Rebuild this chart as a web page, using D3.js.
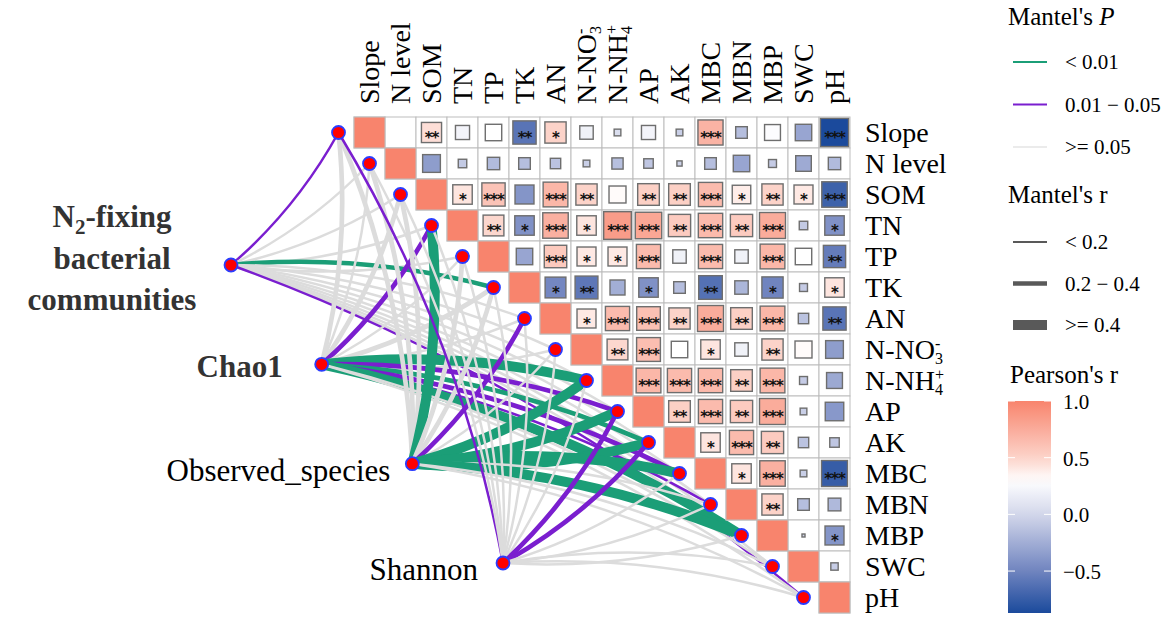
<!DOCTYPE html>
<html>
<head>
<meta charset="utf-8">
<script src="https://cdn.jsdelivr.net/npm/d3@7"></script>
<style>
  body { margin: 0; background: #fff; }
  svg { display: block; }
  text { font-family: "Liberation Serif", "Times New Roman", serif; }
</style>
</head>
<body>
<svg id="chart" width="1170" height="620"></svg>
<script>
// soil / environment variables (rows == columns)
let vars = ["Slope", "N level", "SOM", "TN", "TP", "TK", "AN", "N-NO3", "N-NH4",
            "AP", "AK", "MBC", "MBN", "MBP", "SWC", "pH"];

// Pearson's r, upper triangle, row i holds columns i+1 .. 15
let corR = [
  [0, 0.45, 0.22, 0.30, -0.60, 0.50, 0.20, 0.05, 0.22, -0.05, 0.70, -0.15, 0.28, -0.30, -0.88],
  [-0.35, -0.08, -0.17, -0.15, -0.12, -0.05, -0.14, -0.10, -0.03, -0.15, -0.30, -0.07, -0.27, -0.17],
  [0.42, 0.60, -0.40, 0.68, 0.50, 0.32, 0.52, 0.52, 0.65, 0.38, 0.50, 0.40, -0.72],
  [0.48, -0.42, 0.72, 0.42, 0.85, 0.78, 0.55, 0.66, 0.55, 0.75, -0.08, -0.42],
  [-0.30, 0.56, 0.40, 0.40, 0.65, 0.20, 0.65, 0.20, 0.68, 0.30, -0.55],
  [-0.48, -0.58, -0.25, -0.42, -0.15, -0.62, -0.20, -0.50, -0.07, 0.42],
  [0.40, 0.65, 0.62, 0.50, 0.75, 0.52, 0.68, -0.12, -0.60],
  [0.48, 0.63, 0.30, 0.42, 0.20, 0.50, 0.32, -0.35],
  [0.68, 0.65, 0.66, 0.52, 0.68, -0.07, -0.28],
  [0.52, 0.65, 0.55, 0.75, -0.05, -0.38],
  [0.42, 0.65, 0.55, -0.12, -0.10],
  [0.42, 0.72, -0.05, -0.75],
  [0.50, -0.15, -0.18],
  [0.01, -0.40],
  [-0.06]
];

let corStars = [
  ["", "**", "", "", "**", "*", "", "", "", "", "***", "", "", "", "***"],
  ["", "", "", "", "", "", "", "", "", "", "", "", "", ""],
  ["*", "***", "", "***", "**", "", "**", "**", "***", "*", "**", "*", "***"],
  ["**", "*", "***", "*", "***", "***", "**", "***", "**", "***", "", "*"],
  ["", "***", "*", "*", "***", "", "***", "", "***", "", "**"],
  ["*", "**", "", "*", "", "**", "", "*", "", "*"],
  ["*", "***", "***", "**", "***", "**", "***", "", "**"],
  ["**", "***", "", "*", "", "**", "", ""],
  ["***", "***", "***", "**", "***", "", ""],
  ["**", "***", "**", "***", "", ""],
  ["*", "***", "**", "", ""],
  ["*", "***", "", "***"],
  ["**", "", ""],
  ["", "*"],
  [""]
];

// Mantel test results, one entry per variable
// P class: 0 = < 0.01, 1 = 0.01 - 0.05, 2 = >= 0.05 ; r class: 0 = < 0.2, 1 = 0.2 - 0.4, 2 = >= 0.4
let specs = ["N2-fixing bacterial communities", "Chao1", "Observed_species", "Shannon"];
let pN2      = [1, 2, 2, 2, 2, 0, 2, 2, 2, 2, 2, 2, 2, 2, 2, 1];
let rN2      = [0, 0, 0, 0, 0, 1, 0, 0, 0, 0, 0, 0, 0, 0, 0, 0];
let pChao1   = [2, 2, 2, 1, 2, 2, 2, 2, 0, 1, 0, 1, 1, 0, 2, 2];
let rChao1   = [1, 0, 1, 1, 0, 1, 0, 0, 2, 1, 1, 1, 0, 2, 0, 0];
let pObs     = [2, 2, 2, 0, 2, 2, 1, 2, 0, 0, 0, 0, 2, 0, 2, 2];
let rObs     = [1, 1, 1, 2, 1, 1, 1, 0, 2, 2, 2, 2, 0, 2, 0, 0];
let pShannon = [1, 2, 2, 2, 2, 2, 2, 2, 2, 1, 1, 2, 2, 2, 2, 2];
let rShannon = [0, 0, 0, 0, 0, 0, 0, 0, 0, 1, 1, 0, 0, 0, 0, 0];

let pLabels = ["< 0.01", "0.01 \u2212 0.05", ">= 0.05"];
let rLabels = ["< 0.2", "0.2 \u2212 0.4", ">= 0.4"];
let colorTicks = [1.0, 0.5, 0.0, -0.5];

// Colors
let colorP = ["#1B9E77", "#7A1ECF", "#DCDCDC"];
let widthR = [2.5, 4.7, 10];
let fill = d3.scaleLinear()
    .domain([-0.87, -0.5, 0, 0.3, 0.5, 1])
    .range(["#1B4A9C", "#7084BF", "#D3D7EB", "#FFFFFF", "#FCD3C9", "#F8846D"])
    .clamp(true);

let svg = d3.select("#chart");

let xScale = d3.scaleBand().domain(vars).range([354, 850]);
let yScale = d3.scaleBand().domain(vars).range([117, 613]);
let cell = xScale.bandwidth();

// spec nodes sit on a line left of the matrix
let specX = d3.scaleLinear().domain([0, specs.length - 1]).range([231, 503]);
let specY = d3.scaleLinear().domain([0, specs.length - 1]).range([265, 563]);

function envNode(j) {
    return {x: xScale(vars[j]) - cell / 2, y: yScale(vars[j]) + cell / 2};
}

// links
let links = [];
[[pN2, rN2], [pChao1, rChao1], [pObs, rObs], [pShannon, rShannon]].forEach((pr, s) => {
    vars.forEach((v, j) => {
        links.push({s: s, j: j, p: pr[0][j], r: pr[1][j]});
    });
});

function curve(d) {
    let a = {x: specX(d.s), y: specY(d.s)};
    let b = envNode(d.j);
    let dx = b.x - a.x, dy = b.y - a.y;
    let sign = b.y > a.y ? 1 : -1;
    let k = 0.09;
    let cx = (a.x + b.x) / 2 + sign * k * dy;
    let cy = (a.y + b.y) / 2 - sign * k * dx;
    return "M" + a.x + "," + a.y + "Q" + cx + "," + cy + " " + b.x + "," + b.y;
}

svg.append("g").selectAll("path")
    .data(links)
    .enter().append("path")
    .attr("d", curve)
    .attr("fill", "none")
    .attr("stroke", d => colorP[d.p])
    .attr("stroke-width", d => widthR[d.r]);

// matrix cells
let cells = [];
vars.forEach((v, i) => {
    vars.forEach((w, j) => {
        if (j < i) return;
        let r = j == i ? 1 : corR[i][j - i - 1];
        let star = j == i ? "" : corStars[i][j - i - 1];
        cells.push({row: v, col: w, r: r, star: star, diag: i == j});
    });
});

let grid = svg.append("g");
grid.selectAll("rect.bg")
    .data(cells)
    .enter().append("rect")
    .attr("class", "bg")
    .attr("x", d => xScale(d.col))
    .attr("y", d => yScale(d.row))
    .attr("width", cell)
    .attr("height", cell)
    .attr("fill", "#fff")
    .attr("stroke", "#BDBDBD")
    .attr("stroke-width", 1);

grid.selectAll("rect.sq")
    .data(cells.filter(d => d.r != 0))
    .enter().append("rect")
    .attr("class", "sq")
    .attr("x", d => xScale(d.col) + (cell - side(d)) / 2)
    .attr("y", d => yScale(d.row) + (cell - side(d)) / 2)
    .attr("width", side)
    .attr("height", side)
    .attr("fill", d => fill(d.r))
    .attr("stroke", d => d.diag ? "#BDBDBD" : "#6E6E6E")
    .attr("stroke-width", d => d.diag ? 1 : 1.4);

function side(d) {
    if (d.diag) return cell;
    return Math.sqrt(Math.abs(d.r)) * (cell - 1);
}

grid.selectAll("text.star")
    .data(cells.filter(d => d.star))
    .enter().append("text")
    .attr("class", "star")
    .attr("x", d => xScale(d.col) + cell / 2)
    .attr("y", d => yScale(d.row) + cell / 2 + 10)
    .attr("text-anchor", "middle")
    .style("font-family", "'DejaVu Sans', sans-serif")
    .style("font-size", "15px")
    .style("font-weight", "bold")
    .style("letter-spacing", "-1px")
    .attr("fill", "#111")
    .text(d => d.star);

// labels with sub / superscripts
function writeLabel(t, name) {
    let sub = {"N-NO3": ["N-NO", "3", "-"], "N-NH4": ["N-NH", "4", "+"]}[name];
    if (!sub) { t.text(name); return; }
    t.append("tspan").text(sub[0]);
    t.append("tspan").attr("dy", 5).style("font-size", "16px").text(sub[1]);
    t.append("tspan").attr("dx", -8).attr("dy", -15).style("font-size", "16px").text(sub[2]);
}

svg.append("g").selectAll("text")
    .data(vars)
    .enter().append("text")
    .attr("transform", d => "translate(" + (xScale(d) + cell / 2 + 9) + ",104) rotate(-90)")
    .style("font-size", "28px")
    .each(function (d) { writeLabel(d3.select(this), d); });

svg.append("g").selectAll("text")
    .data(vars)
    .enter().append("text")
    .attr("x", 865)
    .attr("y", d => yScale(d) + cell / 2 + 9)
    .style("font-size", "28px")
    .each(function (d) { writeLabel(d3.select(this), d); });

// nodes
svg.append("g").selectAll("circle")
    .data(vars.map((v, j) => envNode(j)).concat(specs.map((s, i) => ({x: specX(i), y: specY(i)}))))
    .enter().append("circle")
    .attr("cx", d => d.x)
    .attr("cy", d => d.y)
    .attr("r", 6.5)
    .attr("fill", "#FF0000")
    .attr("stroke", "#2A3CFF")
    .attr("stroke-width", 1.8);

// spec labels
let n2 = svg.append("text")
    .attr("x", 112).attr("y", 227)
    .attr("text-anchor", "middle")
    .style("font-size", "31px").style("font-weight", "bold").attr("fill", "#333");
n2.append("tspan").text("N");
n2.append("tspan").attr("dy", 7).style("font-size", "21px").text("2");
n2.append("tspan").attr("dy", -7).text("-fixing");
svg.append("text").attr("x", 112).attr("y", 269).attr("text-anchor", "middle")
    .style("font-size", "31px").style("font-weight", "bold").attr("fill", "#333").text("bacterial");
svg.append("text").attr("x", 112).attr("y", 310).attr("text-anchor", "middle")
    .style("font-size", "31px").style("font-weight", "bold").attr("fill", "#333").text("communities");
svg.append("text").attr("x", specX(1) - 39).attr("y", specY(1) + 13).attr("text-anchor", "end")
    .style("font-size", "31px").style("font-weight", "bold").attr("fill", "#333").text("Chao1");
svg.append("text").attr("x", specX(2) - 22).attr("y", specY(2) + 17).attr("text-anchor", "end")
    .style("font-size", "31px").attr("fill", "#000").text("Observed_species");
svg.append("text").attr("x", specX(3) - 25).attr("y", specY(3) + 17).attr("text-anchor", "end")
    .style("font-size", "31px").attr("fill", "#000").text("Shannon");

// legends
let legend = svg.append("g");
let mp = legend.append("text").attr("x", 1008).attr("y", 25).style("font-size", "25px");
mp.append("tspan").text("Mantel's ");
mp.append("tspan").style("font-style", "italic").text("P");

pLabels.forEach((lab, i) => {
    let y = 62 + i * 42.5;
    legend.append("line").attr("x1", 1013).attr("x2", 1047).attr("y1", y).attr("y2", y)
        .attr("stroke", i == 2 ? "#EBEBEB" : colorP[i]).attr("stroke-width", 2.2);
    legend.append("text").attr("x", 1065).attr("y", y + 7).style("font-size", "21px").text(lab);
});

legend.append("text").attr("x", 1008).attr("y", 203).style("font-size", "25px").text("Mantel's r");
rLabels.forEach((lab, i) => {
    let y = 242 + i * 41.5;
    legend.append("line").attr("x1", 1013).attr("x2", 1047).attr("y1", y).attr("y2", y)
        .attr("stroke", "#595959").attr("stroke-width", [2, 4.7, 10][i]);
    legend.append("text").attr("x", 1065).attr("y", y + 7).style("font-size", "21px").text(lab);
});

legend.append("text").attr("x", 1010).attr("y", 383).style("font-size", "25px").text("Pearson's r");

let barY = d3.scaleLinear().domain([1, -0.87]).range([401, 613]);
let grad = svg.append("defs").append("linearGradient")
    .attr("id", "bar").attr("x1", 0).attr("x2", 0).attr("y1", 0).attr("y2", 1);
d3.range(0, 1.0001, 0.05).forEach(t => {
    grad.append("stop").attr("offset", t).attr("stop-color", fill(1 - t * 1.87));
});
legend.append("rect").attr("x", 1008).attr("y", 401).attr("width", 43).attr("height", 212)
    .attr("fill", "url(#bar)");
colorTicks.forEach(v => {
    legend.append("line").attr("x1", 1008).attr("x2", 1015).attr("y1", barY(v)).attr("y2", barY(v))
        .attr("stroke", "#fff").attr("stroke-width", 1);
    legend.append("line").attr("x1", 1044).attr("x2", 1051).attr("y1", barY(v)).attr("y2", barY(v))
        .attr("stroke", "#fff").attr("stroke-width", 1);
    legend.append("text").attr("x", 1063).attr("y", barY(v) + 8).style("font-size", "21px")
        .text(d3.format(".1f")(v).replace("-", "\u2212"));
});
</script>
</body>
</html>
